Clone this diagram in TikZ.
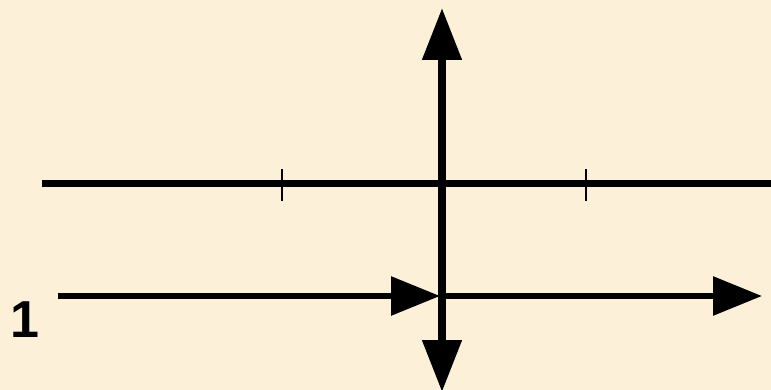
\documentclass[tikz,border=0pt]{standalone}
\usepackage{fontspec}
\setmainfont{Liberation Sans}
\usetikzlibrary{positioning,arrows.meta}
\definecolor{cpaper}{RGB}{252,240,216}
\definecolor{cink}{RGB}{0,0,0}

\begin{document}
\begin{tikzpicture}[
  x=1pt,y=-1pt,
  axisline/.style={cink,line width=7pt},
  lensline/.style={cink,line width=8pt,{Triangle[length=52pt,width=38pt]}-{Triangle[length=52pt,width=38pt]}},
  rayline/.style={cink,line width=6pt,-{Triangle[length=49pt,width=38pt]}},
  focus/.style={cink,line width=1.5pt},
  numlabel/.style={font=\fontsize{52}{52}\selectfont\bfseries,text=cink,inner sep=0pt},
]
% paper
\fill[cpaper] (0,0) rectangle (771,390);
\useasboundingbox (0,0) rectangle (771,390);

% optical axis with focal marks
\coordinate (axL) at (42,184);
\coordinate (axR) at (771,184);
\coordinate (fL) at (282,184);
\coordinate (fR) at (586,184);
\draw[axisline] (axL) -- (axR);
\draw[focus] ([yshift=-17pt]fL) -- ([yshift=15pt]fL);
\draw[focus] ([yshift=-17pt]fR) -- ([yshift=15pt]fR);

% converging lens
\coordinate (lensT) at (442,8);
\coordinate (lensB) at (442,392);
\draw[lensline] (lensB) -- (lensT);

% ray 1
\coordinate (rayA) at (58,296);
\coordinate (rayO) at (440,296);
\coordinate (rayB) at (762,296);
\draw[rayline] (rayA) -- (rayO);
\draw[rayline] (rayO) -- (rayB);
\node[numlabel] (n1) at (25,320) {1};
\end{tikzpicture}
\end{document}
